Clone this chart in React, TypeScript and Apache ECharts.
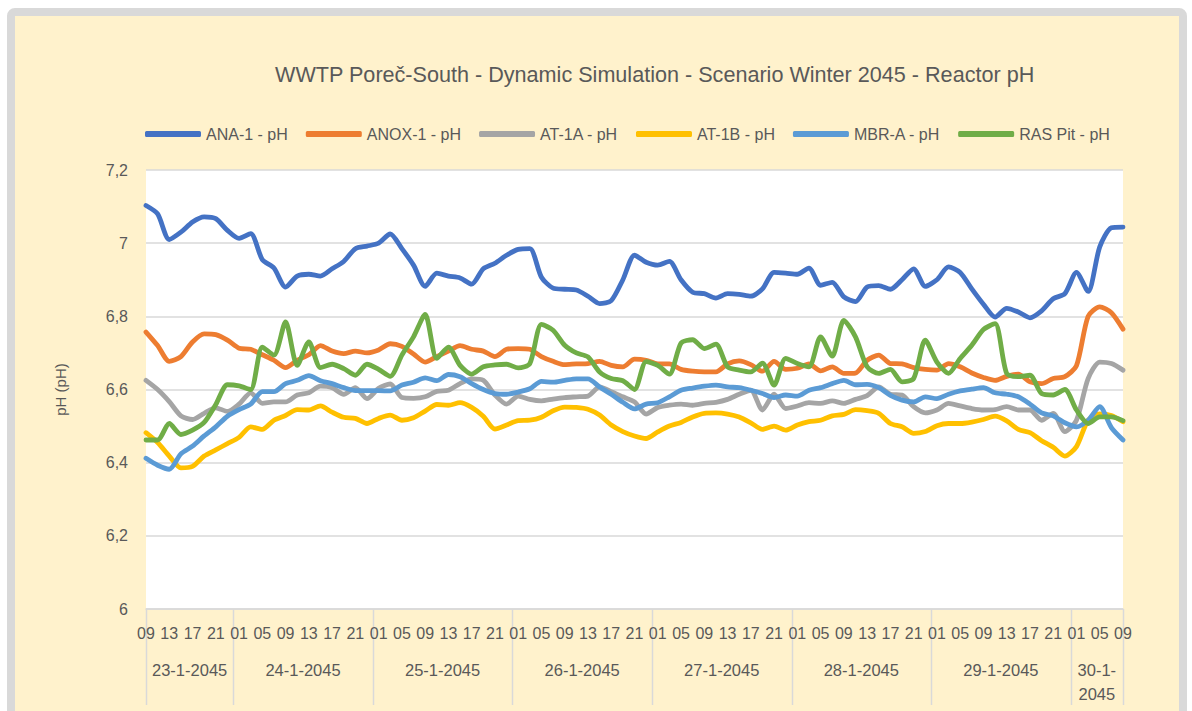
import React, { useEffect, useRef } from 'react';
import * as echarts from 'echarts';

const TITLE = 'WWTP Poreč-South - Dynamic Simulation - Scenario Winter 2045 - Reactor pH';
const Y_NAME = 'pH (pH)';
const FONT = '"Liberation Sans", Arial, sans-serif';
const TEXT_COLOR = '#595959';

// x axis: samples every 2 hours from 23-1-2045 09:00 to 30-1-2045 09:00
const START_HOUR = 9;
const STEP_HOURS = 2;
const TOTAL_HOURS = 168;
const DAY_LABELS = ['23-1-2045', '24-1-2045', '25-1-2045', '26-1-2045', '27-1-2045', '28-1-2045', '29-1-2045', '30-1-\n2045'];
const DAY_BOUNDARY_HOURS = [0, 15, 39, 63, 87, 111, 135, 159, 168];
const CATEGORIES: string[] = [];
for (let h = 0; h <= TOTAL_HOURS; h += STEP_HOURS) {
  const clock = (START_HOUR + h) % 24;
  CATEGORIES.push(`${Math.floor((START_HOUR + h) / 24)}-${String(clock).padStart(2, '0')}`);
}

const Y_MIN = 6;
const Y_MAX = 7.2;
const Y_STEP = 0.2;

const SERIES_NAMES = ['ANA-1 - pH', 'ANOX-1 - pH', 'AT-1A - pH', 'AT-1B - pH', 'MBR-A - pH', 'RAS Pit - pH'];
const SERIES_COLORS = ['#4472C4', '#ED7D31', '#A5A5A5', '#FFC000', '#5B9BD5', '#70AD47'];

const ANA1 = [
  7.103, 7.08, 7.01, 7.03, 7.058, 7.072, 7.067, 7.035, 7.013, 7.026,
  6.955, 6.932, 6.88, 6.91, 6.915, 6.91, 6.93, 6.95, 6.985, 6.992,
  7.0, 7.025, 6.985, 6.94, 6.882, 6.918, 6.91, 6.905, 6.888, 6.93,
  6.945, 6.967, 6.983, 6.985, 6.907, 6.877, 6.874, 6.872, 6.855, 6.835,
  6.843, 6.9, 6.967, 6.948, 6.94, 6.95, 6.9, 6.866, 6.862, 6.85,
  6.862, 6.86, 6.855, 6.875, 6.92, 6.918, 6.915, 6.932, 6.885, 6.893,
  6.853, 6.84, 6.88, 6.884, 6.874, 6.9, 6.93, 6.882, 6.9, 6.935,
  6.92, 6.875, 6.833, 6.798, 6.822, 6.812, 6.796, 6.815, 6.848, 6.862,
  6.92, 6.868, 6.99, 7.042, 7.044,
];
const ANOX1 = [
  6.757, 6.72, 6.677, 6.69, 6.73, 6.752, 6.75, 6.735, 6.713, 6.71,
  6.695, 6.68, 6.66, 6.68, 6.695, 6.72, 6.705, 6.698, 6.705, 6.7,
  6.708, 6.725, 6.718, 6.697, 6.675, 6.69, 6.705, 6.72, 6.71, 6.705,
  6.69, 6.71, 6.712, 6.71, 6.69, 6.677, 6.668, 6.67, 6.671, 6.677,
  6.666, 6.662, 6.683, 6.68, 6.67, 6.67, 6.655, 6.65, 6.648, 6.648,
  6.67, 6.678, 6.668, 6.65, 6.677, 6.655, 6.658, 6.67, 6.651, 6.662,
  6.644, 6.645, 6.68, 6.694, 6.671, 6.67, 6.66, 6.655, 6.653, 6.671,
  6.662, 6.645, 6.633, 6.625, 6.636, 6.642, 6.621, 6.616, 6.63, 6.635,
  6.665, 6.8, 6.826, 6.81, 6.765,
];
const AT1A = [
  6.625, 6.6, 6.567, 6.528, 6.518, 6.535, 6.55, 6.54, 6.56, 6.591,
  6.562, 6.566, 6.566, 6.585, 6.591, 6.609, 6.605, 6.587, 6.605, 6.575,
  6.603, 6.615, 6.578, 6.576, 6.58, 6.595, 6.598, 6.616, 6.629, 6.625,
  6.585, 6.56, 6.582, 6.573, 6.569, 6.574, 6.578, 6.58, 6.582, 6.607,
  6.594, 6.58, 6.566, 6.533, 6.551, 6.557, 6.56, 6.557, 6.562, 6.565,
  6.573, 6.587, 6.598, 6.544, 6.587, 6.548, 6.555, 6.564, 6.562, 6.569,
  6.562, 6.573, 6.583, 6.607, 6.587, 6.585, 6.553, 6.536, 6.544, 6.562,
  6.555, 6.548, 6.544, 6.545, 6.553, 6.544, 6.544, 6.516, 6.535, 6.485,
  6.516, 6.63, 6.675, 6.671, 6.653,
];
const AT1B = [
  6.482, 6.455, 6.418, 6.386, 6.39, 6.418, 6.435, 6.452, 6.469, 6.498,
  6.491, 6.516, 6.529, 6.545, 6.544, 6.555, 6.538, 6.524, 6.521, 6.507,
  6.521, 6.53, 6.516, 6.523, 6.541, 6.559, 6.557, 6.564, 6.551, 6.527,
  6.492, 6.503, 6.515, 6.516, 6.524, 6.542, 6.552, 6.551, 6.546, 6.53,
  6.503, 6.485, 6.473, 6.466, 6.484, 6.5, 6.51, 6.525, 6.535, 6.536,
  6.533, 6.525, 6.509, 6.491, 6.5, 6.489, 6.503, 6.512, 6.516, 6.528,
  6.532, 6.545, 6.542, 6.535, 6.507, 6.498, 6.48, 6.485, 6.501, 6.507,
  6.507, 6.511, 6.518, 6.527, 6.514, 6.491, 6.482, 6.46, 6.442, 6.418,
  6.444, 6.516, 6.533, 6.529, 6.512,
];
const MBRA = [
  6.412, 6.393, 6.382, 6.424, 6.445, 6.473, 6.498, 6.527, 6.545, 6.56,
  6.594, 6.594, 6.616, 6.625, 6.638, 6.624, 6.616, 6.605, 6.597, 6.597,
  6.597, 6.596, 6.612, 6.62, 6.632, 6.624, 6.641, 6.635, 6.616, 6.6,
  6.589, 6.587, 6.593, 6.602, 6.622, 6.62, 6.625, 6.629, 6.629, 6.607,
  6.587, 6.565, 6.547, 6.56, 6.564, 6.58, 6.598, 6.604, 6.609, 6.612,
  6.607, 6.605, 6.598, 6.589, 6.578, 6.585, 6.582, 6.598, 6.605, 6.616,
  6.625, 6.613, 6.614, 6.605, 6.584, 6.571, 6.566, 6.58, 6.575, 6.587,
  6.596, 6.601, 6.605, 6.591, 6.587, 6.58, 6.56, 6.536, 6.528, 6.509,
  6.498, 6.516, 6.553, 6.496, 6.462,
];
const RASPIT = [
  6.462, 6.462, 6.507, 6.477, 6.489, 6.51, 6.559, 6.613, 6.61, 6.6,
  6.716, 6.694, 6.785, 6.666, 6.73, 6.66, 6.669, 6.657, 6.639, 6.669,
  6.655, 6.636, 6.694, 6.744, 6.805, 6.685, 6.716, 6.666, 6.642, 6.662,
  6.667, 6.669, 6.659, 6.671, 6.778, 6.762, 6.721, 6.7, 6.689, 6.648,
  6.63, 6.624, 6.6, 6.676, 6.666, 6.642, 6.727, 6.736, 6.712, 6.724,
  6.662, 6.653, 6.648, 6.672, 6.612, 6.685, 6.671, 6.662, 6.744, 6.691,
  6.789, 6.744, 6.662, 6.644, 6.655, 6.621, 6.63, 6.735, 6.675, 6.644,
  6.685, 6.721, 6.764, 6.78, 6.644, 6.635, 6.639, 6.589, 6.585, 6.6,
  6.544, 6.507, 6.525, 6.525, 6.515,
];
const SERIES_DATA = [ANA1, ANOX1, AT1A, AT1B, MBRA, RASPIT];

export default function App() {
  const ref = useRef<HTMLDivElement>(null);

  useEffect(() => {
    if (!ref.current) return;
    const chart = echarts.init(ref.current, undefined, { renderer: 'svg' });
    const option: any = {
      animation: false,
      backgroundColor: 'transparent',
      textStyle: { fontFamily: FONT },
      title: {
        text: TITLE,
        left: 270,
        top: 58,
        textStyle: { fontFamily: FONT, fontSize: 21.6, fontWeight: 'normal', color: TEXT_COLOR },
      },
      legend: {
        left: 140,
        top: 121,
        itemWidth: 56,
        itemHeight: 6,
        itemGap: 18,
        icon: 'roundRect',
        data: SERIES_NAMES,
        textStyle: { fontFamily: FONT, fontSize: 16, color: TEXT_COLOR },
      },
      grid: {
        left: 146,
        right: 69,
        top: 170,
        bottom: 102,
        show: true,
        backgroundColor: '#FFFFFF',
        borderWidth: 0,
      },
      xAxis: {
        type: 'category',
        data: CATEGORIES,
        boundaryGap: false,
        axisLine: { show: true, lineStyle: { color: '#D9D9D9', width: 1.5 } },
        axisTick: { show: false },
        splitLine: { show: false },
        axisLabel: {
          interval: 1,
          margin: 16,
          fontSize: 16,
          color: TEXT_COLOR,
          fontFamily: FONT,
          formatter: (v: string) => v.slice(-2),
        },
      },
      yAxis: {
        type: 'value',
        min: Y_MIN,
        max: Y_MAX,
        interval: Y_STEP,
        name: Y_NAME,
        nameLocation: 'middle',
        nameRotate: 90,
        nameGap: 78,
        nameTextStyle: { fontFamily: FONT, fontSize: 15, color: TEXT_COLOR },
        axisLine: { show: false },
        axisTick: { show: false },
        splitLine: { show: true, lineStyle: { color: '#D9D9D9', width: 1.5 } },
        axisLabel: {
          margin: 18,
          fontSize: 16,
          color: TEXT_COLOR,
          fontFamily: FONT,
          formatter: (v: number) => String(Math.round(v * 10) / 10).replace('.', ','),
        },
      },
      series: SERIES_NAMES.map((name, i) => ({
        name,
        type: 'line',
        data: SERIES_DATA[i],
        showSymbol: false,
        symbol: 'none',
        smooth: 0.25,
        color: SERIES_COLORS[i],
        lineStyle: { width: 4.8, color: SERIES_COLORS[i], cap: 'round', join: 'round' },
      })),
    };
    chart.setOption(option);

    const x0 = chart.convertToPixel({ xAxisIndex: 0 }, CATEGORIES[0]) as number;
    const x1 = chart.convertToPixel({ xAxisIndex: 0 }, CATEGORIES[CATEGORIES.length - 1]) as number;
    const yBase = chart.convertToPixel({ yAxisIndex: 0 }, Y_MIN) as number;
    const hx = (h: number) => x0 + ((x1 - x0) * h) / TOTAL_HOURS;
    const graphics: any[] = [];
    DAY_BOUNDARY_HOURS.forEach((h) => {
      const x = Math.round(hx(h)) + 0.5;
      graphics.push({
        type: 'line',
        shape: { x1: x, y1: yBase, x2: x, y2: yBase + 96 },
        style: { stroke: '#D9D9D9', lineWidth: 1.5 },
        silent: true,
      });
    });
    DAY_LABELS.forEach((label, i) => {
      const cx = (hx(DAY_BOUNDARY_HOURS[i]) + hx(DAY_BOUNDARY_HOURS[i + 1])) / 2;
      const multi = label.includes('\n');
      graphics.push({
        type: 'text',
        x: cx,
        y: multi ? yBase + 49 : yBase + 61,
        silent: true,
        style: {
          text: label,
          fill: TEXT_COLOR,
          font: `16.5px ${FONT}`,
          align: 'center',
          verticalAlign: multi ? 'top' : 'middle',
          lineHeight: 24,
        },
      });
    });
    chart.setOption({ graphic: graphics });

    return () => chart.dispose();
  }, []);

  return (
    <div style={{ position: 'fixed', left: 0, top: 0, width: 1192, height: 711, background: '#FFFFFF', overflow: 'hidden' }}>
      <div
        style={{
          position: 'absolute',
          left: 7,
          top: 8,
          width: 1180,
          height: 730,
          boxSizing: 'border-box',
          border: '8px solid #D9D9D9',
          borderRadius: 8,
          background: '#FFF2CC',
        }}
      />
      <div ref={ref} style={{ position: 'absolute', left: 0, top: 0, width: 1192, height: 711 }} />
    </div>
  );
}
